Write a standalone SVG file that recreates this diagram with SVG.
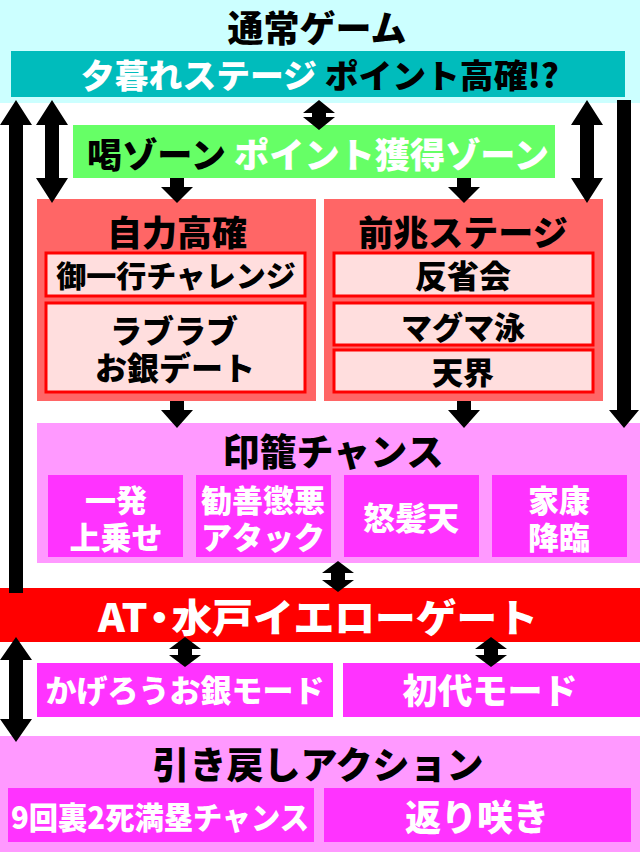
<svg xmlns="http://www.w3.org/2000/svg" width="640" height="852" viewBox="0 0 640 852">
<style>
text{font-family:"Noto Sans CJK JP","Noto Sans CJK SC",sans-serif;font-weight:900;text-anchor:middle;dominant-baseline:central}
.k{fill:#000}.w{fill:#fff}
.inner{fill:#ffdede;stroke:#ff0000;stroke-width:3}
.mag{fill:#ff33ff}
.arr{fill:#000}
</style>
<rect width="640" height="852" fill="#fff"/>
<g id="normal">
<rect x="0" y="0" width="640" height="103" fill="#ccffff"/>
<text x="317" y="26" font-size="36" class="k">通常ゲーム</text>
</g>
<g id="yugure">
<rect x="11" y="51" width="614" height="46" fill="#00bcbc"/>
<text x="320" y="74" font-size="33" textLength="478" lengthAdjust="spacingAndGlyphs"><tspan class="w">夕暮れステージ</tspan><tspan class="k"> ポイント高確!?</tspan></text>
</g>
<g id="katsu">
<rect x="73" y="125" width="482" height="53" fill="#66ff66"/>
<text x="318" y="152" font-size="35" textLength="462" lengthAdjust="spacingAndGlyphs"><tspan class="k">喝ゾーン</tspan><tspan class="w"> ポイント獲得ゾーン</tspan></text>
</g>
<g id="jiriki">
<rect x="37" y="199" width="279" height="202" fill="#ff6666"/>
<text x="177" y="230" font-size="35" class="k">自力高確</text>
<rect class="inner" x="46" y="253" width="259" height="43"/>
<text x="176" y="274" font-size="30" class="k">御一行チャレンジ</text>
<rect class="inner" x="46" y="303" width="259" height="89"/>
<text x="174" y="329" font-size="32" class="k">ラブラブ<tspan x="175" dy="37">お銀デート</tspan></text>
</g>
<g id="zencho">
<rect x="324" y="199" width="279" height="202" fill="#ff6666"/>
<text x="463" y="230" font-size="35" class="k">前兆ステージ</text>
<rect class="inner" x="334" y="253" width="259" height="43"/>
<text x="463" y="274" font-size="32" class="k">反省会</text>
<rect class="inner" x="334" y="303" width="259" height="42"/>
<text x="463" y="325" font-size="31" class="k">マグマ泳</text>
<rect class="inner" x="334" y="350" width="259" height="42"/>
<text x="463" y="370" font-size="31" class="k">天界</text>
</g>
<g id="inro">
<rect x="37" y="423" width="603" height="140" fill="#ff99ff"/>
<text x="333" y="450" font-size="37" class="k">印籠チャンス</text>
<rect class="mag" x="48" y="475" width="135" height="82"/>
<text x="116" y="498" font-size="31" class="w">一発<tspan x="116" dy="37">上乗せ</tspan></text>
<rect class="mag" x="196" y="475" width="135" height="82"/>
<text x="263" y="498" font-size="31" class="w">勧善懲悪<tspan x="263" dy="37">アタック</tspan></text>
<rect class="mag" x="344" y="475" width="135" height="82"/>
<text x="411" y="516" font-size="32" class="w">怒髪天</text>
<rect class="mag" x="492" y="475" width="135" height="82"/>
<text x="559" y="498" font-size="31" class="w">家康<tspan x="559" dy="37">降臨</tspan></text>
</g>
<g id="at">
<rect x="0" y="588" width="640" height="54" fill="#ff0000"/>
<text x="318" y="615" font-size="39" class="w" textLength="440" lengthAdjust="spacingAndGlyphs">AT<tspan dx="-8">・</tspan><tspan dx="-8">水戸イエローゲート</tspan></text>
</g>
<g id="kagero">
<rect class="mag" x="37" y="663" width="296" height="54"/>
<text x="185" y="688" font-size="31" class="w">かげろうお銀モード</text>
</g>
<g id="shodai">
<rect class="mag" x="343" y="663" width="297" height="54"/>
<text x="490" y="688" font-size="35" class="w">初代モード</text>
</g>
<g id="hikimodoshi">
<rect x="0" y="736" width="640" height="116" fill="#ff99ff"/>
<text x="318" y="763" font-size="37" class="k">引き戻しアクション</text>
<rect class="mag" x="8" y="788" width="306" height="54"/>
<text x="160" y="815" font-size="31" class="w" textLength="298" lengthAdjust="spacingAndGlyphs">9回裏2死満塁チャンス</text>
<rect class="mag" x="324" y="788" width="307" height="54"/>
<text x="477" y="815" font-size="36" class="w">返り咲き</text>
</g>
<g id="connectors" class="arr">
<path d="M16,100 L32,125 L23,125 L23,593 L9,593 L9,125 L0,125 Z"/>
<path d="M52,100 L68,125 L59,125 L59,178 L68,178 L52,203 L36,178 L45,178 L45,125 L36,125 Z"/>
<path d="M319,100 L335,113 L326,113 L326,117 L335,117 L319,130 L303,117 L312,117 L312,113 L303,113 Z"/>
<path d="M587,100 L603,125 L594,125 L594,178 L603,178 L587,203 L571,178 L580,178 L580,125 L571,125 Z"/>
<path d="M617,100 L631,100 L631,410 L639,410 L624,428 L609,410 L617,410 Z"/>
<path d="M170,178 L184,178 L184,187 L193,187 L177,203 L161,187 L170,187 Z"/>
<path d="M457,178 L471,178 L471,187 L480,187 L464,203 L448,187 L457,187 Z"/>
<path d="M170,401 L184,401 L184,410 L193,410 L177,428 L161,410 L170,410 Z"/>
<path d="M457,401 L471,401 L471,410 L480,410 L464,428 L448,410 L457,410 Z"/>
<path d="M338,561 L354,573 L345,573 L345,580 L354,580 L338,592 L322,580 L331,580 L331,573 L322,573 Z"/>
<path d="M185,637 L201,649 L192,649 L192,655 L201,655 L185,667 L169,655 L178,655 L178,649 L169,649 Z"/>
<path d="M491,637 L507,649 L498,649 L498,655 L507,655 L491,667 L475,655 L484,655 L484,649 L475,649 Z"/>
<path d="M16,637 L32,660 L23,660 L23,719 L32,719 L16,742 L0,719 L9,719 L9,660 L0,660 Z"/>
</g>
</svg>
